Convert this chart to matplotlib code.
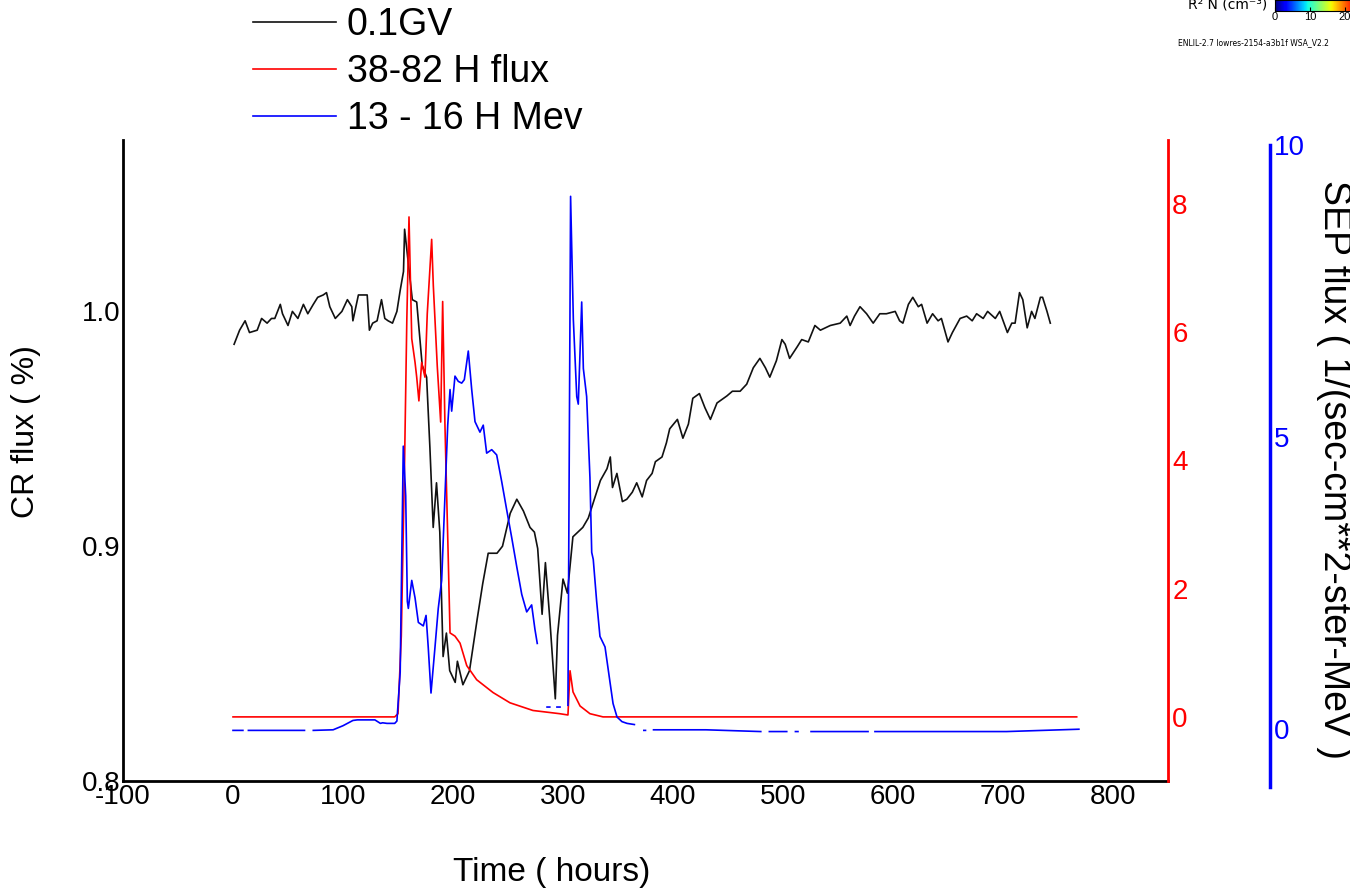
import numpy as np
import matplotlib
matplotlib.use("Agg")
import matplotlib.pyplot as plt

nan = np.nan

# cosmic ray flux, 0.1 GV (left axis)
cr_hours = [1, 6, 11, 15, 22, 26, 31, 35, 38, 43, 45, 50, 54, 59, 64, 68, 73, 77, 82, 85,
            88, 93, 99, 104, 108, 109, 114, 122, 124, 127, 131, 135, 138, 141, 145, 149, 152, 155,
            156, 163, 167, 172, 176, 179, 182, 185, 188, 191, 194, 197, 202, 204, 209, 215,
            222, 227, 232, 240, 245, 252, 258, 264, 270, 274, 277, 281, 284, 288, 293, 295,
            300, 304, 309, 318, 323,
            334, 340, 343, 345, 349, 354, 358, 363, 367, 372, 376, 381, 384, 390, 394, 397,
            404, 409, 414, 418, 424, 429, 434, 440, 449, 454, 461, 467, 473, 479, 484, 488,
            494, 499, 502, 506, 513, 517, 523, 529, 534, 543, 552, 558, 561, 565, 570, 576,
            582, 588, 594, 602,
            606, 609, 614, 618, 623, 626, 631, 636, 641, 644, 650, 654, 661, 667, 672, 676,
            682, 686, 693, 697, 704, 708, 711, 715, 718, 722, 726, 729, 734, 736, 740, 743]
cr_flux = [0.986, 0.992, 0.996, 0.991, 0.992, 0.997, 0.995, 0.997, 0.997, 1.003, 0.999, 0.994,
           1.000, 0.997, 1.003, 0.999, 1.003, 1.006, 1.007, 1.008, 1.002, 0.997, 1.000, 1.005,
           1.002, 0.996, 1.007, 1.007, 0.992, 0.995, 0.996, 1.005, 0.997, 0.996, 0.995, 1.000,
           1.009, 1.017,
           1.035, 1.005, 1.004, 0.977, 0.972, 0.942, 0.908, 0.927, 0.906, 0.853, 0.863, 0.847,
           0.842, 0.851, 0.841, 0.847, 0.869, 0.884, 0.897, 0.897, 0.900, 0.914, 0.920, 0.915,
           0.908, 0.906, 0.899, 0.871, 0.893, 0.869, 0.835, 0.862, 0.886, 0.880, 0.904, 0.908,
           0.912,
           0.928, 0.933, 0.938, 0.925, 0.931, 0.919, 0.920, 0.923, 0.927, 0.921, 0.928, 0.931,
           0.936, 0.938, 0.944, 0.950, 0.954, 0.946, 0.952, 0.963, 0.965, 0.959, 0.954, 0.961,
           0.964, 0.966, 0.966, 0.969, 0.976, 0.980, 0.976, 0.972, 0.979, 0.988, 0.986, 0.980,
           0.985, 0.988, 0.987, 0.994, 0.992, 0.994, 0.995, 0.998, 0.994, 0.998, 1.002, 0.999,
           0.995, 0.999, 0.999, 1.000,
           0.996, 0.995, 1.003, 1.006, 1.002, 1.003, 0.995, 0.999, 0.996, 0.997, 0.987, 0.991,
           0.997, 0.998, 0.996, 0.999, 0.997, 1.000, 0.997, 1.000, 0.991, 0.995, 0.995, 1.008,
           1.005, 0.993, 1.000, 0.997, 1.006, 1.006, 1.000, 0.995]

# 38-82 MeV proton flux (red axis)
hi_hours = [0, 147, 150, 153, 156, 158, 160, 162.5, 165.5, 167, 169, 171.5, 174.5, 176.6,
            180.6, 182.1, 185.7, 188.8, 190.6, 192.7, 195.7, 197.3, 201.8, 206.4, 212.5,
            221.5, 236.4, 251.8, 272.7, 297, 304.5, 306.4, 309.1, 315.5, 324.5, 336.4, 767]
hi_flux = [0, 0, 0.05, 1.26, 4.0, 6.18, 7.8, 5.9, 5.53, 5.3, 4.93, 5.53, 5.3, 6.29,
           7.45, 6.73, 5.47, 4.6, 6.48, 4.54, 2.46, 1.31, 1.26, 1.15, 0.8,
           0.58, 0.38, 0.22, 0.1, 0.05, 0.03, 0.72, 0.39, 0.17, 0.05, 0, 0]

# 13-16 MeV proton flux (blue axis), nan = missing data
lo_hours = [0, 9, 9.5, 14, 65, 65.5, 73, 91, 100, 109, 113, 122, 129, 134, 136, 140, 143, 147,
            149, 152, 153.4, 154.8, 157, 158.5, 159.4, 162.5, 165.5, 168.5, 173, 175.5, 177.5,
            180, 183.6, 186.6, 189.7, 192.7, 195.2, 197.3, 198.8, 201.8, 204.8, 207.9, 210.3,
            213.9, 217, 220, 224.5, 227.5, 230.6, 235.2, 239.7, 244.3, 248.8, 253.4, 257.9,
            262.5, 267, 271.5, 274.5, 276.6, 277, 285.5, 288, 288.5, 294.5, 297.3, 297.8,
            304.5, 306.9, 309.4, 312.5, 313.9, 317, 318.5, 321.5, 324.5, 326.1, 327.5, 330.6,
            333.6, 338.2, 342.7, 345.5, 349.1, 353.6, 358.2, 364.9, 365.5, 373.5, 375, 375.5,
            382.3, 430, 479.8, 480.5, 487.6, 503.4, 504, 511.3, 513.6, 514, 525.5, 577.3, 578,
            583.6, 703.2, 769]
lo_flux = [-0.03, -0.03, nan, -0.03, -0.03, nan, -0.03, -0.02, 0.05, 0.14, 0.15, 0.15, 0.15,
           0.09, 0.10, 0.09, 0.09, 0.09, 0.13, 0.97, 2.9, 4.84, 3.99, 2.18, 2.06, 2.54, 2.24,
           1.82, 1.76, 1.94, 1.39, 0.61, 1.39, 2.06, 2.54, 3.99, 5.2, 5.81, 5.44, 6.04, 5.95,
           5.92, 5.98, 6.47, 5.81, 5.26, 5.08, 5.2, 4.72, 4.78, 4.69, 4.23, 3.75, 3.27, 2.78,
           2.30, 2.0, 2.12, 1.70, 1.46, nan, 0.37, 0.37, nan, 0.37, 0.37, nan,
           0.4, 9.12, 7.01, 5.69, 5.56, 7.31, 6.17, 5.69, 4.30, 3.02, 2.90, 2.18,
           1.58, 1.40, 0.80, 0.43, 0.20, 0.12, 0.09, 0.07, nan, -0.03, -0.03, nan,
           -0.02, -0.02, -0.05, nan, -0.05, -0.05, nan, -0.05, -0.05, nan, -0.05, -0.05, nan,
           -0.05, -0.05, -0.01]

x_ticks = [-100, 0, 100, 200, 300, 400, 500, 600, 700, 800]
cr_ticks = [0.8, 0.9, 1.0]
hi_ticks = [0, 2, 4, 6, 8]
lo_ticks = [0, 5, 10]

plt.rcParams['font.family'] = ['Liberation Sans', 'DejaVu Sans']
plt.rcParams['axes.unicode_minus'] = False

W, H = 1350, 893
fig = plt.figure(figsize=(W / 100, H / 100), dpi=100)


def box(left, top, right, bottom):
    return [left / W, 1 - bottom / H, (right - left) / W, (bottom - top) / H]


ax = fig.add_axes(box(123, 140, 1168, 781))
l1, = ax.plot(cr_hours, cr_flux, color='#111111', lw=1.2)
ax.set_xlim(-100, 850)
ax.set_ylim(0.8, 1.073)
ax.set_xticks(x_ticks)
ax.set_yticks(cr_ticks)
ax.set_yticklabels([f"{v:.1f}" for v in cr_ticks])
ax.tick_params(length=0, labelsize=20, pad=2)
ax.spines['top'].set_visible(False)
ax.spines['right'].set_visible(False)
ax.spines['left'].set_linewidth(2)
ax.spines['bottom'].set_linewidth(2)

ax2 = ax.twinx()
l2, = ax2.plot(hi_hours, hi_flux, color='red', lw=1.2)
ax2.set_ylim(-1, 9)
ax2.set_yticks(hi_ticks)
ax2.tick_params(length=0, labelsize=20, labelcolor='red', pad=3)
for s in ['top', 'left', 'bottom']:
    ax2.spines[s].set_visible(False)
ax2.spines['right'].set_color('red')
ax2.spines['right'].set_linewidth(2)

ax3 = fig.add_axes(box(123, 145, 1168, 787))
ax3.patch.set_visible(False)
l3, = ax3.plot(lo_hours, lo_flux, color='blue', lw=1.2)
ax3.set_xlim(-100, 850)
ax3.set_ylim(-1, 10)
ax3.yaxis.tick_right()
ax3.set_yticks(lo_ticks)
ax3.tick_params(axis='y', length=0, labelsize=20, labelcolor='blue', pad=3)
ax3.tick_params(axis='x', bottom=False, labelbottom=False)
for s in ['top', 'left', 'bottom']:
    ax3.spines[s].set_visible(False)
ax3.spines['right'].set_position(('axes', 1147 / 1045))
ax3.spines['right'].set_color('blue')
ax3.spines['right'].set_linewidth(2.5)

fig.text(26 / W, 1 - 432 / H, 'CR flux ( %)', rotation=90, ha='center', va='center', fontsize=23)
fig.text(552 / W, 1 - 873 / H, 'Time ( hours)', ha='center', va='center', fontsize=24)
fig.text(1334 / W, 1 - 470 / H, 'SEP flux ( 1/(sec-cm**2-ster-MeV )', rotation=270,
         ha='center', va='center', fontsize=27)

fig.legend([l1, l2, l3], ['0.1GV', '38-82 H flux', '13 - 16 H Mev'],
           loc='upper left', bbox_to_anchor=(253 / W, 1 - 7 / H), frameon=False, fontsize=27,
           handlelength=2.2, handletextpad=0.3, labelspacing=0.29,
           borderpad=0, borderaxespad=0)

# leftover colour bar from another panel, cut at the top right corner
cax = fig.add_axes(box(1275, 0, 1352, 11))
cax.imshow(np.linspace(0, 22, 200).reshape(1, -1), aspect='auto', cmap='jet',
           vmin=0, vmax=25, extent=(0, 22, 0, 1))
cax.set_xticks([0, 10, 20])
cax.set_yticks([])
cax.tick_params(axis='x', labelsize=8, length=3, pad=1, direction='in')
for s in cax.spines.values():
    s.set_linewidth(0.8)
fig.text(1267 / W, 1 - 4 / H, 'R² N (cm⁻³)', ha='right', va='center', fontsize=10,
         family=['DejaVu Sans'])
fig.text(1178 / W, 1 - 43 / H, 'ENLIL-2.7 lowres-2154-a3b1f WSA_V2.2', ha='left',
         va='center', fontsize=5.5, family=['DejaVu Sans'])

fig.savefig('out.png', dpi=100)
